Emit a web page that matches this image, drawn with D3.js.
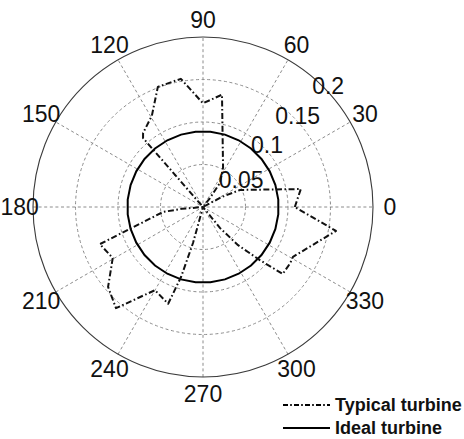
<!DOCTYPE html>
<html>
<head>
<meta charset="utf-8">
<script src="https://cdn.jsdelivr.net/npm/d3@7"></script>
<style>
  html, body { margin: 0; padding: 0; background: #fff; }
  svg { display: block; }
</style>
</head>
<body>
<svg id="chart" width="464" height="439"></svg>
<script>
// Radial grid: ring values and their labels
const ringValues = [0.05, 0.1, 0.15, 0.2];
const ringLabels = ["0.05", "0.1", "0.15", "0.2"];

// Angular grid: spoke directions (degrees, counter-clockwise from east) and labels
const spokeAngles = [0, 30, 60, 90, 120, 150, 180, 210, 240, 270, 300, 330];
const spokeLabels = ["0", "30", "60", "90", "120", "150", "180", "210", "240", "270", "300", "330"];

// Typical turbine: polar trace (angle in degrees, radius)
const typicalTheta = [0, 10.4, 24.7, 28, 40, 52, 55, 63, 80.4, 90, 99.8, 110.6, 119.3, 129, 131,
                      160, 185, 187, 199.8, 209.5, 220.1, 229.3, 240, 250.2, 252.6, 254.5,
                      280, 309, 312.6, 317, 320, 327.2, 331, 349.8, 360];
const typicalR = [0.108, 0.117, 0.048, 0.025, 0, 0.013, 0.035, 0.052, 0.134, 0.122, 0.153, 0.151, 0.123, 0.112, 0.1075,
                  0, 0.025, 0.047, 0.129, 0.122, 0.146, 0.157, 0.113, 0.121, 0.086, 0.044,
                  0, 0.032, 0.061, 0.092, 0.1225, 0.122, 0.121, 0.159, 0.108];

// Ideal turbine: uniform response sampled every 11.25 degrees
const idealTheta = [5.625, 16.875, 28.125, 39.375, 50.625, 61.875, 73.125, 84.375,
                    95.625, 106.875, 118.125, 129.375, 140.625, 151.875, 163.125, 174.375,
                    185.625, 196.875, 208.125, 219.375, 230.625, 241.875, 253.125, 264.375,
                    275.625, 286.875, 298.125, 309.375, 320.625, 331.875, 343.125, 354.375, 365.625];
const idealR = [0.089, 0.089, 0.089, 0.089, 0.089, 0.089, 0.089, 0.089,
                0.089, 0.089, 0.089, 0.089, 0.089, 0.089, 0.089, 0.089,
                0.089, 0.089, 0.089, 0.089, 0.089, 0.089, 0.089, 0.089,
                0.089, 0.089, 0.089, 0.089, 0.089, 0.089, 0.089, 0.089, 0.089];

// Legend entries
const legendNames = ["Typical turbine", "Ideal turbine"];

const svg = d3.select("#chart");
const cx = 203, cy = 207, R = 170;
const rMax = 0.2;
const FONT = "'Liberation Sans', Arial, Helvetica, sans-serif";

const r = d3.scaleLinear().domain([0, rMax]).range([0, R]);
const toRad = d => d * Math.PI / 180;

const g = svg.append("g").attr("transform", `translate(${cx},${cy})`);

// rings
g.selectAll("circle.ring")
  .data(ringValues.filter(v => v < rMax))
  .join("circle")
  .attr("class", "ring")
  .attr("r", d => r(d))
  .attr("fill", "none")
  .attr("stroke", "#8c8c8c")
  .attr("stroke-width", 1)
  .attr("stroke-dasharray", "3,2.6");

// spokes (full diameters)
g.selectAll("line.spoke")
  .data(spokeAngles.filter(a => a < 180))
  .join("line")
  .attr("class", "spoke")
  .attr("x1", d => -R * Math.cos(toRad(d)))
  .attr("y1", d => R * Math.sin(toRad(d)))
  .attr("x2", d => R * Math.cos(toRad(d)))
  .attr("y2", d => -R * Math.sin(toRad(d)))
  .attr("stroke", "#8c8c8c")
  .attr("stroke-width", 1)
  .attr("stroke-dasharray", "3,2.6");

// outer boundary
g.append("circle")
  .attr("r", r(rMax))
  .attr("fill", "none")
  .attr("stroke", "#3a3a3a")
  .attr("stroke-width", 1.1);

// angle labels; the 180 label is kept inside the left edge of the page
g.selectAll("text.ang")
  .data(spokeAngles)
  .join("text")
  .attr("class", "ang")
  .attr("x", d => d === 180 ? -cx + 0.5 : 1.1 * R * Math.cos(toRad(d)))
  .attr("y", d => -1.1 * R * Math.sin(toRad(d)))
  .attr("dy", "0.35em")
  .attr("text-anchor", d => d === 180 ? "start" : "middle")
  .attr("font-family", FONT)
  .attr("font-size", 23)
  .attr("fill", "#111")
  .text((d, i) => spokeLabels[i]);

// radial tick labels
g.selectAll("text.rlab")
  .data(ringValues)
  .join("text")
  .attr("class", "rlab")
  .attr("x", d => (r(d) + 4) * Math.cos(toRad(d < 0.06 ? 35 : 44)))
  .attr("y", d => -(r(d) + 4) * Math.sin(toRad(d < 0.06 ? 35 : 44)))
  .attr("dy", "0.35em")
  .attr("text-anchor", "middle")
  .attr("font-family", FONT)
  .attr("font-size", 23)
  .attr("fill", "#111")
  .text((d, i) => ringLabels[i]);

const radial = d3.lineRadial()
  .angle(d => toRad(90 - d[0]))
  .radius(d => r(d[1]));

// ideal turbine
g.append("path")
  .datum(idealTheta.map((t, i) => [t, idealR[i]]))
  .attr("d", radial)
  .attr("fill", "none")
  .attr("stroke", "#000")
  .attr("stroke-width", 2);

// typical turbine
g.append("path")
  .datum(typicalTheta.map((t, i) => [t, typicalR[i]]))
  .attr("d", radial)
  .attr("fill", "none")
  .attr("stroke", "#111")
  .attr("stroke-width", 2)
  .attr("stroke-linejoin", "round")
  .attr("stroke-dasharray", "6,2.5,1.6,2.5");

// legend
const legendStyles = [
  { dash: "5,2.2,1.6,2.2", y: 405, ty: 411 },
  { dash: null, y: 428, ty: 434 }
];
const lg = svg.append("g");
legendNames.forEach((name, i) => {
  const s = legendStyles[i];
  lg.append("line")
    .attr("x1", 283).attr("x2", 330)
    .attr("y1", s.y).attr("y2", s.y)
    .attr("stroke", "#000")
    .attr("stroke-width", 2)
    .attr("stroke-dasharray", s.dash);
  lg.append("text")
    .attr("x", 335).attr("y", s.ty)
    .attr("font-family", FONT)
    .attr("font-weight", "bold")
    .attr("font-size", 18)
    .attr("fill", "#111")
    .text(name);
});
</script>
</body>
</html>
